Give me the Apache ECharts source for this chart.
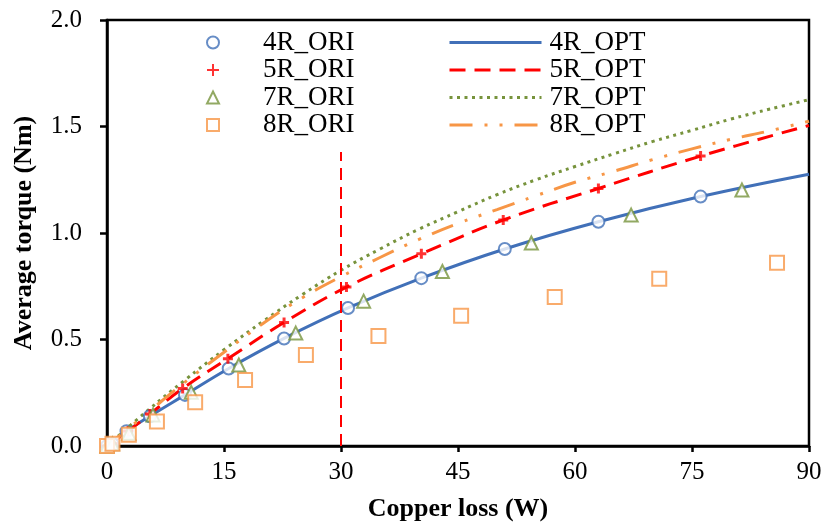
<!DOCTYPE html>
<html>
<head>
<meta charset="utf-8">
<script src="https://cdn.jsdelivr.net/npm/echarts@6/dist/echarts.min.js"></script>
<style>
  html, body { margin: 0; padding: 0; background: #fff; }
  #chart { width: 826px; height: 527px; }
</style>
</head>
<body>
<div id="chart"></div>
<script>
// Measured points (copper loss in W, average torque in Nm)
const ori4x = [0, 0.7, 2.5, 5.5, 10.0, 15.6, 22.7, 30.9, 40.3, 51.0, 63.0, 76.1];
const ori4y = [0, 0.01, 0.069, 0.140, 0.240, 0.364, 0.505, 0.648, 0.788, 0.925, 1.053, 1.171];

const ori5x = [0, 0.7, 2.7, 5.5, 9.7, 15.5, 22.7, 30.7, 40.3, 50.8, 63.0, 76.1];
const ori5y = [0, 0.01, 0.070, 0.150, 0.270, 0.410, 0.580, 0.746, 0.902, 1.061, 1.209, 1.361];

const ori7x = [0, 0.7, 2.8, 5.9, 10.8, 16.9, 24.2, 32.9, 43.0, 54.4, 67.2, 81.4];
const ori7y = [0, 0.01, 0.060, 0.146, 0.252, 0.380, 0.530, 0.680, 0.819, 0.953, 1.084, 1.202];

const ori8x = [0, 0.7, 2.8, 6.4, 11.3, 17.7, 25.5, 34.8, 45.4, 57.4, 70.8, 85.9];
const ori8y = [0, 0.01, 0.053, 0.115, 0.205, 0.310, 0.427, 0.517, 0.611, 0.700, 0.785, 0.860];

// Optimised designs (curves)
const opt4x = [0, 2.5, 5.5, 10.0, 15.6, 22.7, 30.9, 40.3, 51.0, 63.0, 76.1, 90];
const opt4y = [0, 0.069, 0.140, 0.240, 0.364, 0.505, 0.648, 0.788, 0.925, 1.053, 1.171, 1.276];

const opt5x = [0, 2.7, 5.5, 9.7, 15.5, 22.7, 30.7, 40.3, 50.8, 63.0, 76.1, 90];
const opt5y = [0, 0.070, 0.150, 0.270, 0.410, 0.580, 0.746, 0.902, 1.061, 1.209, 1.361, 1.505];

const opt7x = [0, 5, 10, 15, 20, 25, 30, 35, 40, 45, 50, 55, 60, 65, 70, 75, 80, 85, 90];
const opt7y = [0, 0.160, 0.310, 0.452, 0.585, 0.710, 0.825, 0.925, 1.018, 1.100, 1.180, 1.250, 1.312, 1.372, 1.430, 1.482, 1.535, 1.582, 1.626];

const opt8x = [0, 5, 10, 15, 20, 25, 30, 35, 40, 45, 50, 55, 60, 65, 70, 75, 80, 85, 90];
const opt8y = [0, 0.150, 0.300, 0.440, 0.575, 0.695, 0.795, 0.885, 0.970, 1.045, 1.110, 1.175, 1.238, 1.290, 1.345, 1.395, 1.440, 1.480, 1.525];

// Design point marker
const markX = 30;
const markTop = 1.38;

const xTicks = { min: 0, max: 90, interval: 15 };
const yTicks = { min: 0, max: 2, interval: 0.5 };

const zip = (xs, ys) => xs.map((x, i) => [x, ys[i]]);

const FONT = "'Times New Roman', 'Liberation Serif', serif";
const BLUE = '#4170b8';
const RED = '#ff0000';
const GREEN = '#77933c';
const ORANGE = '#f79646';

const chart = echarts.init(document.getElementById('chart'), null, { renderer: 'canvas' });

const legendText = (padLeft) => ({
  fontFamily: FONT, fontSize: 27, color: '#000',
  padding: [0, 0, 0, padLeft]
});

chart.setOption({
  animation: false,
  backgroundColor: '#fff',
  grid: {
    left: 107, right: 17, top: 20, bottom: 79,
    show: true, borderColor: '#000', borderWidth: 2.5, backgroundColor: 'transparent'
  },
  legend: [
    {
      data: ['4R_ORI', '5R_ORI', '7R_ORI', '8R_ORI'],
      orient: 'vertical', left: 201, top: 24,
      itemWidth: 12, itemHeight: 12, itemGap: 0.5,
      textStyle: legendText(39)
    },
    {
      data: ['4R_OPT', '5R_OPT', '7R_OPT', '8R_OPT'],
      orient: 'vertical', left: 443, top: 24,
      itemWidth: 92, itemHeight: 14, itemGap: 0.5,
      itemStyle: { opacity: 0 },
      lineStyle: { width: 3 },
      textStyle: legendText(3)
    }
  ],
  xAxis: {
    type: 'value', min: xTicks.min, max: xTicks.max, interval: xTicks.interval,
    name: 'Copper loss (W)', nameLocation: 'middle', nameGap: 50,
    nameTextStyle: { fontFamily: FONT, fontSize: 26, fontWeight: 'bold', color: '#000' },
    axisLine: { lineStyle: { color: '#000', width: 2.5 } },
    axisTick: { inside: false, length: 6, lineStyle: { color: '#000', width: 2.5 } },
    axisLabel: { fontFamily: FONT, fontSize: 25, color: '#000', margin: 14 },
    splitLine: { show: false }
  },
  yAxis: {
    type: 'value', min: yTicks.min, max: yTicks.max, interval: yTicks.interval,
    name: 'Average torque (Nm)', nameLocation: 'middle', nameGap: 70,
    nameTextStyle: { fontFamily: FONT, fontSize: 26, fontWeight: 'bold', color: '#000' },
    axisLine: { lineStyle: { color: '#000', width: 2.5 } },
    axisTick: { inside: false, length: 7, lineStyle: { color: '#000', width: 2.5 } },
    axisLabel: { fontFamily: FONT, fontSize: 25, color: '#000', margin: 25,
      formatter: v => v.toFixed(1) },
    splitLine: { show: false }
  },
  series: [
    {
      name: '4R_OPT', type: 'line', data: zip(opt4x, opt4y), smooth: 0.4,
      symbol: 'none', lineStyle: { color: BLUE, width: 3 }, itemStyle: { color: BLUE }, z: 2
    },
    {
      name: '5R_OPT', type: 'line', data: zip(opt5x, opt5y), smooth: 0.4,
      symbol: 'none', lineStyle: { color: RED, width: 3, type: [16, 9] }, itemStyle: { color: RED }, z: 2,
      markLine: {
        silent: true, symbol: 'none', label: { show: false },
        lineStyle: { color: RED, width: 2, type: [12, 7] },
        data: [[{ coord: [markX, 0] }, { coord: [markX, markTop] }]]
      }
    },
    {
      name: '7R_OPT', type: 'line', data: zip(opt7x, opt7y), smooth: 0.4,
      symbol: 'none', lineStyle: { color: GREEN, width: 3, type: [3, 4.5] }, itemStyle: { color: GREEN }, z: 2
    },
    {
      name: '8R_OPT', type: 'line', data: zip(opt8x, opt8y), smooth: 0.4,
      symbol: 'none', lineStyle: { color: ORANGE, width: 3, type: [23, 12, 3, 12, 3, 12] }, itemStyle: { color: ORANGE }, z: 2
    },
    {
      name: '4R_ORI', type: 'scatter', data: zip(ori4x, ori4y),
      symbol: 'emptyCircle', symbolSize: 12,
      itemStyle: { color: BLUE, borderColor: BLUE, borderWidth: 2.5 }, z: 3
    },
    {
      name: '5R_ORI', type: 'scatter', data: zip(ori5x, ori5y),
      symbol: 'path://M0,5H10M5,0V10', symbolSize: 10,
      itemStyle: { color: RED, borderColor: RED, borderWidth: 3 }, z: 3
    },
    {
      name: '7R_ORI', type: 'scatter', data: zip(ori7x, ori7y),
      symbol: 'emptyTriangle', symbolSize: 13,
      itemStyle: { color: GREEN, borderColor: GREEN, borderWidth: 2.5 }, z: 3
    },
    {
      name: '8R_ORI', type: 'scatter', data: zip(ori8x, ori8y),
      symbol: 'emptyRect', symbolSize: 14,
      itemStyle: { color: ORANGE, borderColor: ORANGE, borderWidth: 2.5 }, z: 3
    }
  ]
});
</script>
</body>
</html>
